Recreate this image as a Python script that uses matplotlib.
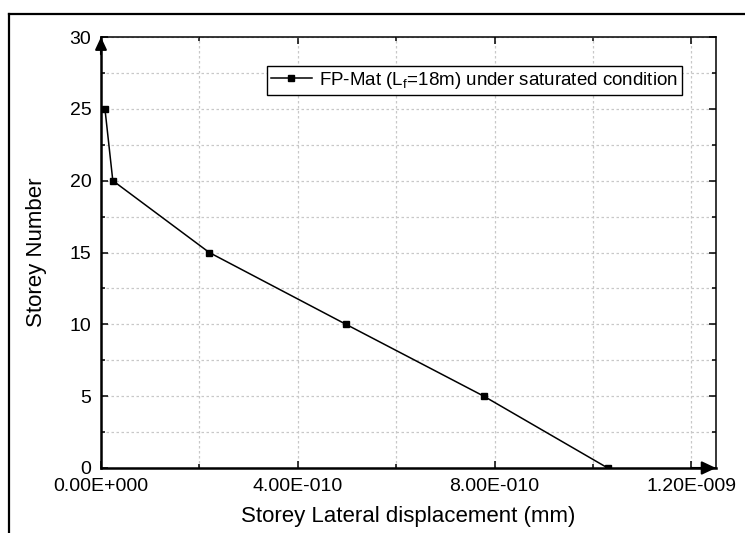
import numpy as np
import matplotlib
matplotlib.use("Agg")
import matplotlib.pyplot as plt
from matplotlib.lines import Line2D

# values
storey = [0, 5, 10, 15, 20, 25]
disp = [1.03e-9, 7.78e-10, 4.98e-10, 2.2e-10, 2.4e-11, 8e-12]

x_major = [0, 4e-10, 8e-10, 1.2e-9]
x_labels = ["0.00E+000", "4.00E-010", "8.00E-010", "1.20E-009"]
x_minor = [2e-10, 6e-10, 1e-9]
y_major = [0, 5, 10, 15, 20, 25, 30]
y_minor = [2.5, 7.5, 12.5, 17.5, 22.5, 27.5]

plt.rcParams["font.family"] = ["Liberation Sans", "DejaVu Sans"]

fig = plt.figure(figsize=(7.45, 5.33), dpi=100)
ax = fig.add_axes([101 / 745, 65 / 533, 615 / 745, 431 / 533])

ax.plot(disp, storey, color="k", lw=1.1, marker="s", ms=4.5,
        label=r"FP-Mat (L$_\mathregular{f}$=18m) under saturated condition")

ax.set_xlim(0, 1.25e-9)
ax.set_ylim(0, 30)
ax.set_xticks(x_major)
ax.set_xticklabels(x_labels)
ax.set_xticks(x_minor, minor=True)
ax.set_yticks(y_major)
ax.set_yticks(y_minor, minor=True)

ax.grid(True, which="both", color="#c8c8c8", ls=(0, (2, 2)), lw=0.9)
ax.set_axisbelow(True)

ax.tick_params(which="both", direction="in", top=True, right=True,
               labelsize=14, width=1.1)
ax.tick_params(which="major", length=5, pad=7)
ax.tick_params(which="minor", length=3)

for s in ["left", "bottom"]:
    ax.spines[s].set_linewidth(1.8)
for s in ["top", "right"]:
    ax.spines[s].set_linewidth(1.1)

ax.set_xlabel("Storey Lateral displacement (mm)", fontsize=16, labelpad=8)
ax.set_ylabel("Storey Number", fontsize=16, labelpad=16)

# arrow heads on the axes
ax.annotate("", xy=(0, 1), xytext=(0, 0.96), xycoords="axes fraction",
            arrowprops=dict(arrowstyle="-|>,head_length=0.75,head_width=0.35",
                            color="k", lw=1.5, shrinkA=0, shrinkB=0))
ax.annotate("", xy=(1, 0), xytext=(0.96, 0), xycoords="axes fraction",
            arrowprops=dict(arrowstyle="-|>,head_length=0.85,head_width=0.4",
                            color="k", lw=1.5, shrinkA=0, shrinkB=0))

leg = ax.legend(loc="upper right", bbox_to_anchor=(0.945, 0.932), fontsize=13.5,
                frameon=True, fancybox=False, framealpha=1, edgecolor="k",
                handlelength=2.2, borderpad=0.2, handletextpad=0.4,
                borderaxespad=0)
leg.get_frame().set_linewidth(1.0)

# outer frame of the picture
fig.add_artist(Line2D([9 / 745, 9 / 745], [0, 1 - 14 / 533], color="k", lw=1.6))
fig.add_artist(Line2D([9 / 745, 1], [1 - 14 / 533, 1 - 14 / 533], color="k", lw=1.6))

fig.savefig("out.png", dpi=100)
